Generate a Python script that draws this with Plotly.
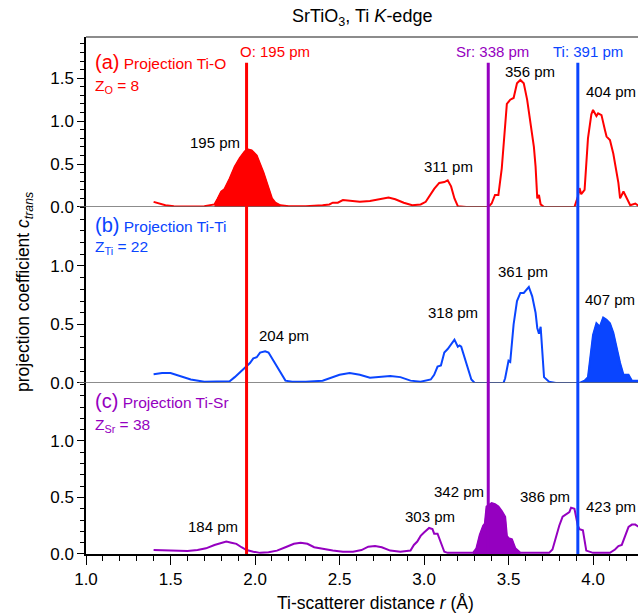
import plotly.graph_objects as go
from plotly.subplots import make_subplots

# ---------------- data ----------------
r_o = [1.40, 1.43, 1.47, 1.52, 1.60, 1.70, 1.76, 1.78, 1.80, 1.82, 1.85, 1.88, 1.91, 1.94, 1.96,
       1.98, 2.01, 2.03, 2.05, 2.08, 2.10, 2.12, 2.15, 2.20, 2.30, 2.40, 2.44, 2.46, 2.49, 2.52,
       2.56, 2.62, 2.68, 2.74, 2.79, 2.83, 2.88, 2.93, 2.98, 3.01, 3.04, 3.06, 3.09, 3.12, 3.14,
       3.16, 3.18, 3.20, 3.25, 3.38, 3.40, 3.42, 3.44, 3.46, 3.49, 3.51, 3.53, 3.55, 3.57, 3.59,
       3.61, 3.63, 3.65, 3.66, 3.67, 3.68, 3.69, 3.71, 3.89, 3.91, 3.92, 3.93, 3.95, 3.97, 3.99,
       4.00, 4.02, 4.03, 4.05, 4.07, 4.08, 4.10, 4.12, 4.15, 4.16, 4.18, 4.20, 4.22, 4.25, 4.27]
c_o = [0.06, 0.04, 0.02, 0.01, 0.005, 0.01, 0.03, 0.10, 0.18, 0.21, 0.33, 0.47, 0.57, 0.65, 0.67,
       0.66, 0.60, 0.50, 0.40, 0.22, 0.10, 0.05, 0.02, 0.01, 0.01, 0.02, 0.03, 0.05, 0.05, 0.08,
       0.07, 0.06, 0.07, 0.09, 0.11, 0.09, 0.05, 0.02, 0.03, 0.06, 0.16, 0.21, 0.28, 0.29, 0.31,
       0.24, 0.10, 0.01, 0.0, 0.0, 0.04, 0.14, 0.14, 0.45, 1.20, 1.25, 1.27, 1.44, 1.48, 1.44,
       1.25, 1.00, 0.70, 0.47, 0.10, 0.14, 0.03, 0.0, 0.0, 0.12, 0.22, 0.15, 0.20, 0.80, 1.08,
       1.13, 1.06, 1.09, 1.07, 0.90, 0.82, 0.78, 0.62, 0.28, 0.10, 0.18, 0.10, 0.02, 0.04, 0.01]

r_ti = [1.40, 1.45, 1.50, 1.55, 1.62, 1.70, 1.80, 1.85, 1.88, 1.91, 1.95, 1.97, 1.99, 2.01, 2.03,
        2.06, 2.08, 2.10, 2.12, 2.14, 2.16, 2.18, 2.22, 2.30, 2.40, 2.44, 2.50, 2.56, 2.62, 2.68,
        2.74, 2.80, 2.86, 2.92, 2.98, 3.04, 3.06, 3.08, 3.10, 3.12, 3.14, 3.16, 3.18, 3.20, 3.21,
        3.22, 3.24, 3.26, 3.28, 3.30, 3.47, 3.48, 3.50, 3.51, 3.53, 3.55, 3.57, 3.59, 3.61, 3.62,
        3.64, 3.66, 3.67, 3.68, 3.69, 3.70, 3.71, 3.74, 3.78, 3.92, 3.95, 3.97, 3.99, 4.00, 4.02,
        4.04, 4.06, 4.08, 4.10, 4.12, 4.14, 4.16, 4.18, 4.21, 4.23, 4.27]
c_ti = [0.075, 0.085, 0.085, 0.06, 0.03, 0.01, 0.01, 0.015, 0.05, 0.09, 0.15, 0.17, 0.21, 0.22, 0.26,
        0.27, 0.26, 0.21, 0.17, 0.12, 0.06, 0.02, 0.01, 0.01, 0.02, 0.04, 0.07, 0.085, 0.07, 0.045,
        0.05, 0.06, 0.05, 0.02, 0.01, 0.03, 0.07, 0.14, 0.15, 0.26, 0.29, 0.33, 0.37, 0.31, 0.32,
        0.31, 0.22, 0.12, 0.03, 0.0, 0.0, 0.04, 0.19, 0.18, 0.50, 0.70, 0.77, 0.77, 0.80, 0.82,
        0.74, 0.60, 0.47, 0.42, 0.48, 0.30, 0.05, 0.01, 0.0, 0.0, 0.02, 0.05, 0.30, 0.41, 0.51,
        0.48, 0.56, 0.54, 0.51, 0.43, 0.30, 0.17, 0.07, 0.07, 0.02, 0.02]

r_sr = [1.40, 1.50, 1.60, 1.66, 1.71, 1.76, 1.80, 1.83, 1.86, 1.89, 1.92, 1.95, 1.99, 2.03, 2.08,
        2.13, 2.18, 2.23, 2.27, 2.31, 2.35, 2.40, 2.46, 2.52, 2.58, 2.63, 2.67, 2.71, 2.75, 2.80,
        2.86, 2.92, 2.94, 2.96, 2.98, 3.00, 3.03, 3.05, 3.06, 3.08, 3.10, 3.12, 3.14, 3.29, 3.31,
        3.33, 3.35, 3.36, 3.37, 3.40, 3.42, 3.44, 3.46, 3.48, 3.49, 3.50, 3.52, 3.54, 3.57, 3.74,
        3.76, 3.78, 3.80, 3.82, 3.84, 3.86, 3.87, 3.89, 3.91, 3.92, 3.94, 3.96, 4.00, 4.10, 4.13,
        4.15, 4.17, 4.19, 4.21, 4.23, 4.25, 4.27]
c_sr = [0.035, 0.03, 0.027, 0.035, 0.05, 0.08, 0.10, 0.11, 0.10, 0.09, 0.06, 0.035, 0.02, 0.01, 0.015,
        0.03, 0.06, 0.09, 0.10, 0.09, 0.06, 0.045, 0.03, 0.02, 0.02, 0.035, 0.065, 0.07, 0.06, 0.03,
        0.02, 0.03, 0.08, 0.11, 0.16, 0.19, 0.23, 0.22, 0.18, 0.18, 0.09, 0.02, 0.01, 0.01, 0.05,
        0.17, 0.25, 0.27, 0.42, 0.45, 0.44, 0.42, 0.38, 0.33, 0.16, 0.14, 0.13, 0.05, 0.01, 0.01,
        0.04, 0.15, 0.25, 0.33, 0.35, 0.37, 0.41, 0.40, 0.25, 0.22, 0.21, 0.03, 0.01, 0.01, 0.04,
        0.07, 0.08, 0.17, 0.24, 0.26, 0.26, 0.24]

# highlighted (filled) windows
fill_o = (1.76, 2.15)
fill_ti = (3.92, 4.27)
fill_sr = (3.29, 3.57)

# reference distances (Å) and their labels
ref_r = [1.95, 3.38, 3.91]
ref_labels = ["O: 195 pm", "Sr: 338 pm", "Ti: 391 pm"]
ref_label_x = [2.118, 3.408, 3.970]

x_ticks = [1.0, 1.5, 2.0, 2.5, 3.0, 3.5, 4.0]

# peak annotations: (text, r, paper-y, anchor)
peaks = [
    ("195 pm", 1.763, 0.795, "center"), ("311 pm", 3.142, 0.749, "center"),
    ("356 pm", 3.627, 0.934, "center"), ("404 pm", 4.266, 0.894, "right"),
    ("204 pm", 2.172, 0.422, "center"), ("318 pm", 3.169, 0.468, "center"),
    ("361 pm", 3.583, 0.547, "center"), ("407 pm", 4.101, 0.493, "center"),
    ("184 pm", 1.754, 0.054, "center"), ("303 pm", 3.036, 0.072, "center"),
    ("342 pm", 3.207, 0.120, "center"), ("386 pm", 3.716, 0.112, "center"),
    ("423 pm", 4.266, 0.091, "right"),
]

RED = "#ff0000"
BLUE = "#0a45ff"
PURPLE = "#9500c0"
FONT = "Liberation Sans, Arial, Helvetica, sans-serif"

fig = make_subplots(rows=3, cols=1, shared_xaxes=True, vertical_spacing=0)

def subset(rs, cs, lo, hi):
    xs, ys = [], []
    for a, b in zip(rs, cs):
        if lo - 1e-9 <= a <= hi + 1e-9:
            xs.append(a)
            ys.append(b)
    return xs, ys

for row, (rs, cs, col, win) in enumerate([(r_o, c_o, RED, fill_o), (r_ti, c_ti, BLUE, fill_ti),
                                          (r_sr, c_sr, PURPLE, fill_sr)], start=1):
    fx, fy = subset(rs, cs, *win)
    fig.add_trace(go.Scatter(x=fx, y=fy, mode="lines", fill="tozeroy", fillcolor=col,
                             line=dict(color=col, width=1), hoverinfo="skip", showlegend=False),
                  row=row, col=1)
    fig.add_trace(go.Scatter(x=rs, y=cs, mode="lines", line=dict(color=col, width=2),
                             showlegend=False), row=row, col=1)

fig.update_layout(
    width=638, height=614,
    margin=dict(l=86, r=0, t=37, b=60),
    paper_bgcolor="white", plot_bgcolor="white",
    font=dict(family=FONT, size=17, color="black"),
    showlegend=False,
)

fig.update_layout(
    yaxis=dict(domain=[0.6712, 1.0], range=[0, 1.98]),
    yaxis2=dict(domain=[0.3308, 0.6712], range=[0, 1.504]),
    yaxis3=dict(domain=[0.0, 0.3308], range=[0, 1.513]),
)

common_y = dict(showgrid=False, zeroline=False, showline=True, linecolor="black", linewidth=1.5,
                ticks="outside", ticklen=7, tickwidth=1.2, tickcolor="black", tickformat=".1f",
                tickfont=dict(size=17, family=FONT),
                minor=dict(ticks="outside", dtick=0.1, tick0=0, ticklen=4, tickcolor="black", showgrid=False))
fig.update_yaxes(**common_y)
fig.update_yaxes(tickvals=[0, 0.5, 1.0, 1.5], row=1, col=1)
fig.update_yaxes(tickvals=[0, 0.5, 1.0], row=2, col=1)
fig.update_yaxes(tickvals=[0, 0.5, 1.0], row=3, col=1)

fig.update_xaxes(range=[1.0, 4.266], showgrid=False, zeroline=False)
fig.update_xaxes(showticklabels=False, showline=False, ticks="", row=1, col=1)
fig.update_xaxes(showticklabels=False, showline=False, ticks="", row=2, col=1)
fig.update_xaxes(showline=True, linecolor="black", linewidth=1.5, ticks="outside", ticklen=9,
                 tickwidth=1.2, tickcolor="black", tickvals=x_ticks, tickformat=".1f",
                 tickfont=dict(size=17, family=FONT),
                 minor=dict(ticks="outside", dtick=0.1, tick0=0, ticklen=5, tickcolor="black", showgrid=False),
                 row=3, col=1)

shapes = []
shapes.append(dict(type="line", xref="paper", yref="paper", x0=0, x1=1, y0=1, y1=1,
                   line=dict(color="#666666", width=1.5)))
for yr in ["y", "y2"]:
    shapes.append(dict(type="line", xref="paper", yref=yr, x0=-0.0127, x1=1, y0=0, y1=0,
                       line=dict(color="#666666", width=1.5)))
for rr, col in zip(ref_r, [RED, PURPLE, BLUE]):
    shapes.append(dict(type="line", xref="x3", yref="paper", x0=rr, x1=rr, y0=0, y1=0.95,
                       line=dict(color=col, width=3)))
fig.update_layout(shapes=shapes)

ann = []
ann.append(dict(text="SrTiO<sub>3</sub>, Ti <i>K</i>-edge", xref="paper", yref="paper",
                x=0.5, y=(554 - 17) / 517, xanchor="center", yanchor="middle", showarrow=False,
                font=dict(size=18, family=FONT, color="black")))
for lab, lx, col in zip(ref_labels, ref_label_x, [RED, PURPLE, BLUE]):
    ann.append(dict(text=lab, xref="x3", yref="paper", x=lx, y=0.971, xanchor="center",
                    yanchor="middle", showarrow=False, font=dict(size=15, family=FONT, color=col)))
for txt, px, py, anc in peaks:
    ann.append(dict(text=txt, xref="x3", yref="paper", x=px, y=py, xanchor=anc,
                    yanchor="middle", showarrow=False, font=dict(size=15, family=FONT, color="black")))

panel_labels = [
    ("<span style='font-size:20px'>(a)</span> Projection Ti-O", 0.9516, RED),
    ("Z<sub>O</sub> = 8", 0.9033, RED),
    ("<span style='font-size:20px'>(b)</span> Projection Ti-Ti", 0.6364, BLUE),
    ("Z<sub>Ti</sub> = 22", 0.5919, BLUE),
    ("<span style='font-size:20px'>(c)</span> Projection Ti-Sr", 0.2959, PURPLE),
    ("Z<sub>Sr</sub> = 38", 0.2495, PURPLE),
]
for txt, py, col in panel_labels:
    ann.append(dict(text=txt, xref="paper", yref="paper", x=0.013, y=py, xanchor="left",
                    yanchor="middle", showarrow=False, font=dict(size=15.5, family=FONT, color=col)))

ann.append(dict(text="Ti-scatterer distance <i>r</i> (Å)", xref="paper", yref="paper",
                x=(375 - 86) / 552, y=(554 - 603) / 517, xanchor="center", yanchor="middle",
                showarrow=False, font=dict(size=17.5, family=FONT, color="black")))
ann.append(dict(text="projection coefficient <i>c</i><sub><i>trans</i></sub>", xref="paper", yref="paper",
                x=(24 - 86) / 552, y=(554 - 292) / 517, xanchor="center", yanchor="middle",
                textangle=-90, showarrow=False, font=dict(size=17.5, family=FONT, color="black")))
fig.update_layout(annotations=ann)

fig.write_html("out.html")
